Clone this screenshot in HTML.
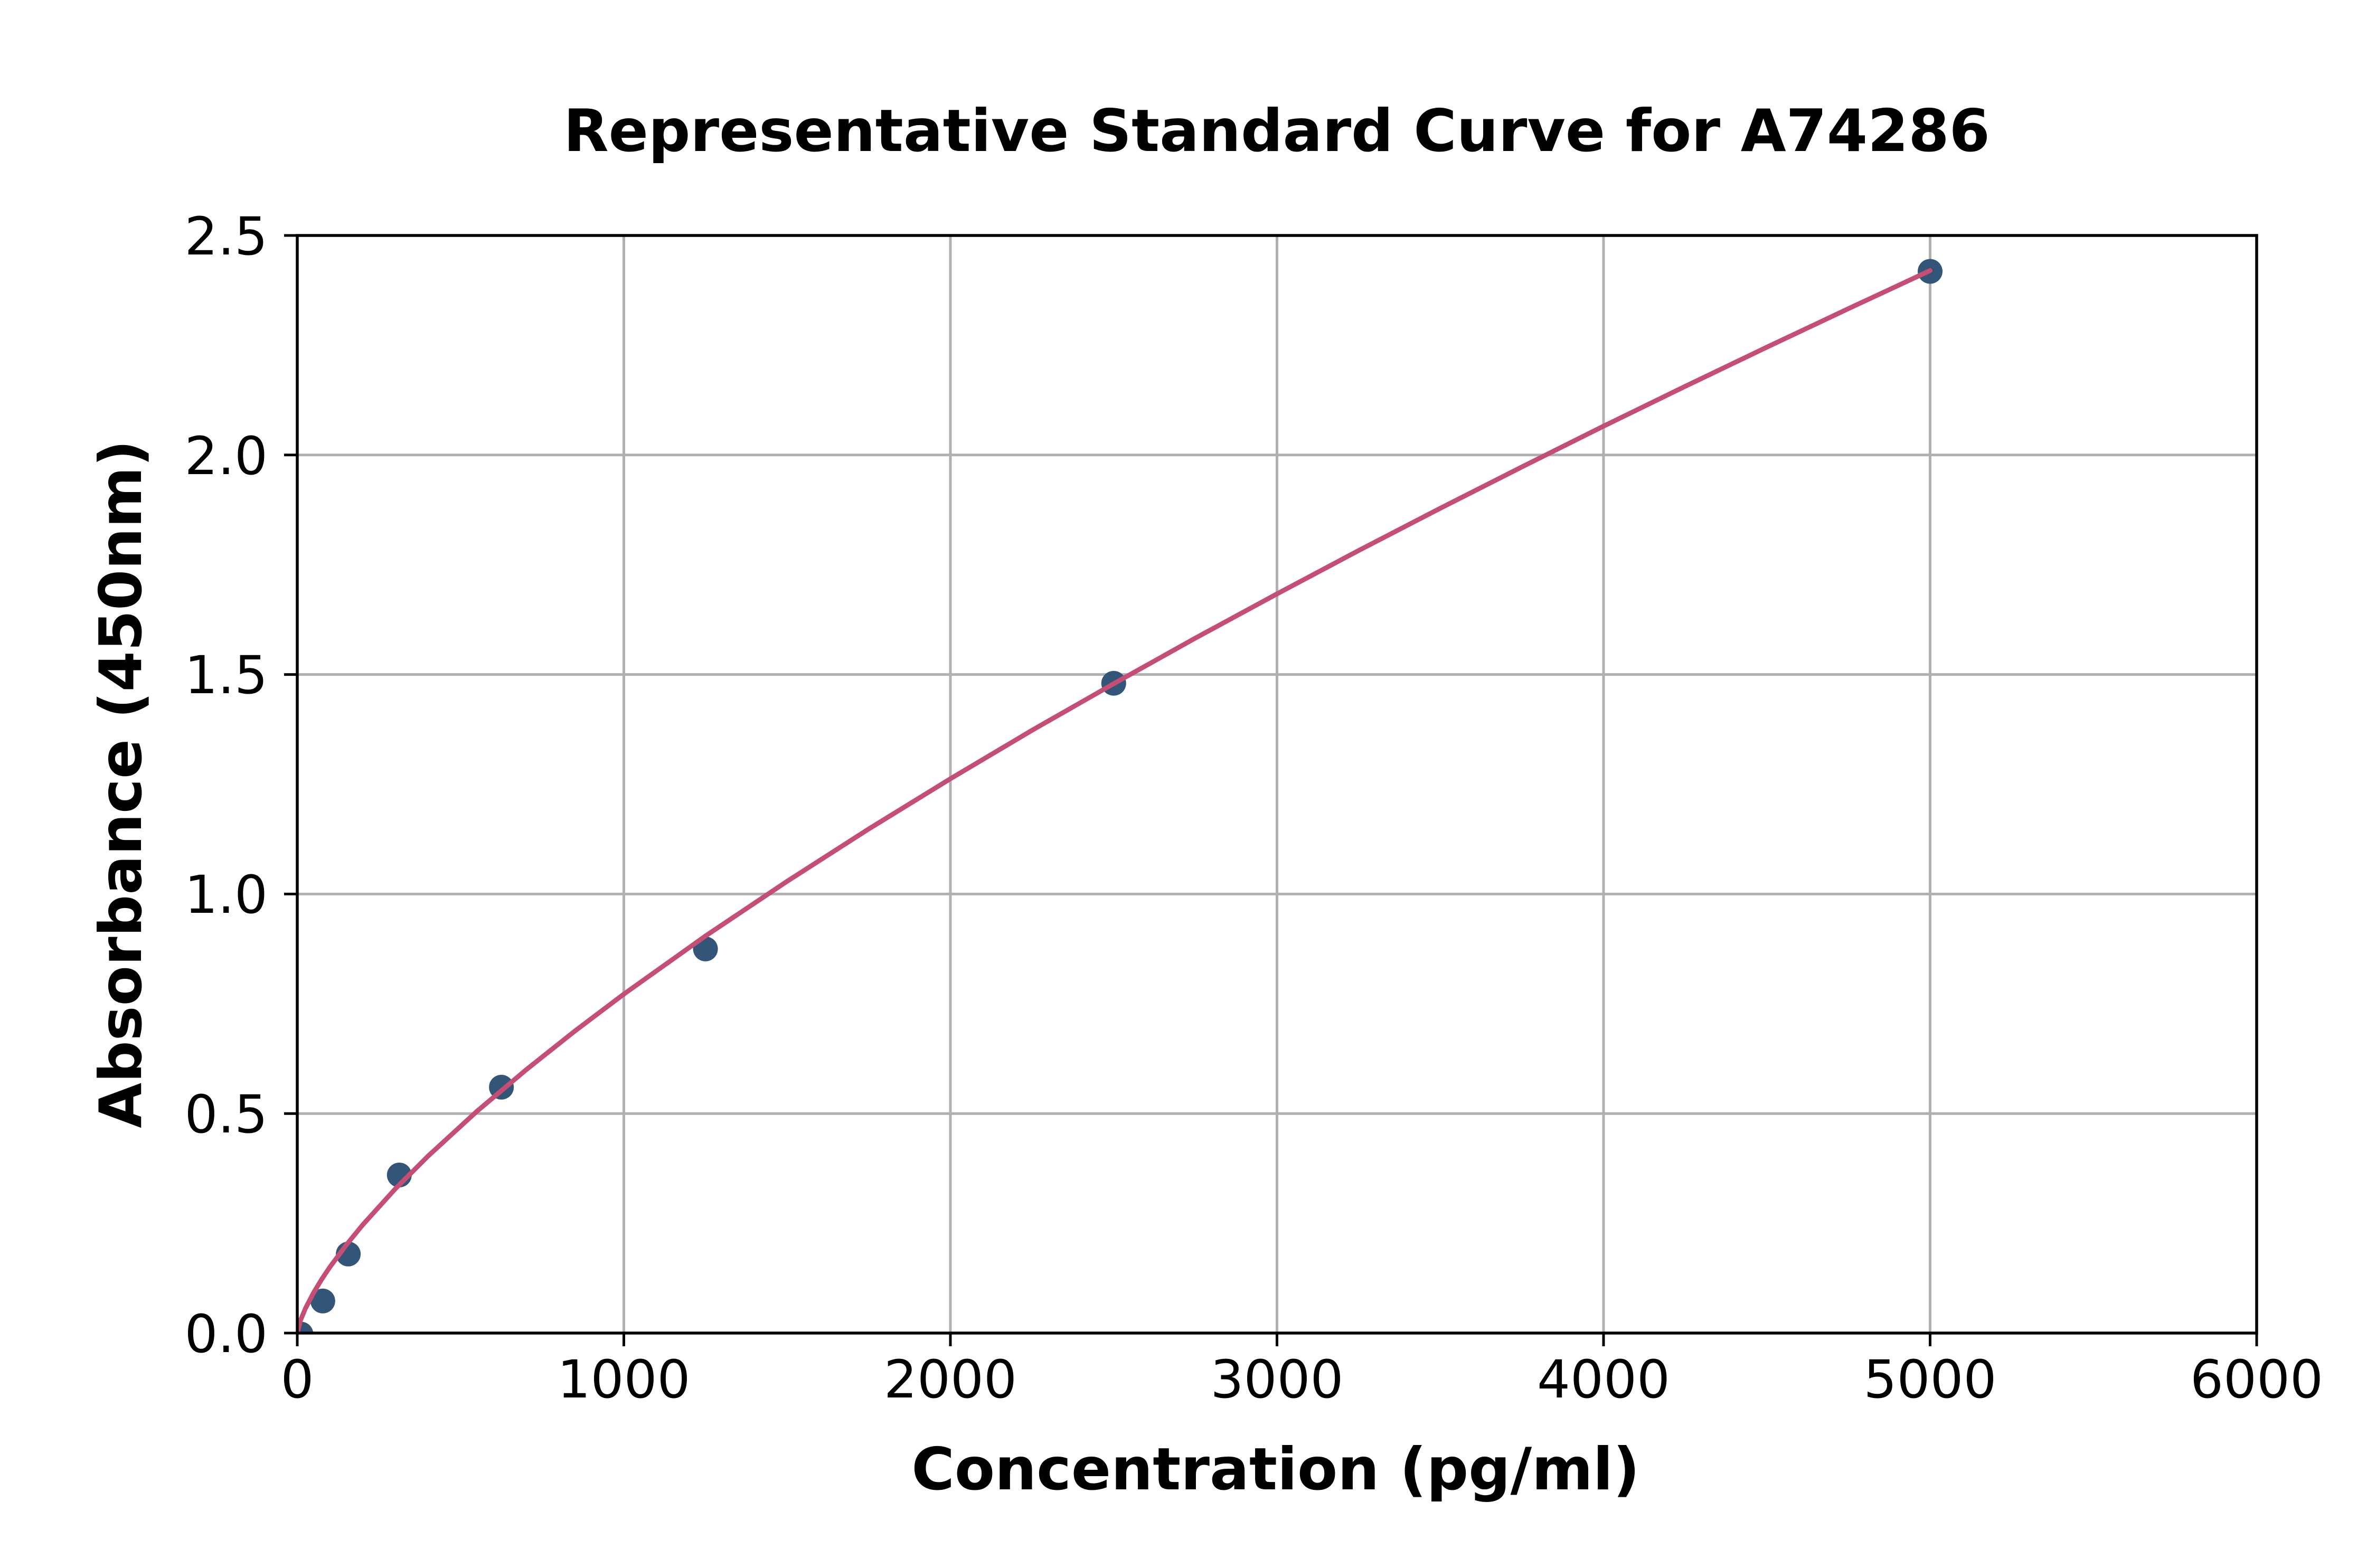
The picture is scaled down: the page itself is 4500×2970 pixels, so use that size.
<!DOCTYPE html>
<html><head><meta charset="utf-8"><style>html,body{margin:0;padding:0;background:#fff}svg{display:block}</style></head>
<body>
<svg width="4500" height="2970" viewBox="0 0 4500 2970" xmlns="http://www.w3.org/2000/svg" font-family="'DejaVu Sans','Liberation Sans',sans-serif">
<defs><clipPath id="ax"><rect x="563" y="446" width="3711" height="2079"/></clipPath></defs>
<rect width="4500" height="2970" fill="#fff"/>
<g stroke="#b0b0b0" stroke-width="5">
<line x1="1181.5" y1="446" x2="1181.5" y2="2525"/>
<line x1="1800" y1="446" x2="1800" y2="2525"/>
<line x1="2418.5" y1="446" x2="2418.5" y2="2525"/>
<line x1="3037" y1="446" x2="3037" y2="2525"/>
<line x1="3655.5" y1="446" x2="3655.5" y2="2525"/>
<line x1="563" y1="2109.2" x2="4274" y2="2109.2"/>
<line x1="563" y1="1693.4" x2="4274" y2="1693.4"/>
<line x1="563" y1="1277.6" x2="4274" y2="1277.6"/>
<line x1="563" y1="861.8" x2="4274" y2="861.8"/>
</g>
<g fill="#335577" clip-path="url(#ax)">
<circle cx="570" cy="2527" r="23.5"/>
<circle cx="611.3" cy="2464.3" r="23.5"/>
<circle cx="659.6" cy="2375.3" r="23.5"/>
<circle cx="756.3" cy="2225.6" r="23.5"/>
<circle cx="949.6" cy="2059.3" r="23.5"/>
<circle cx="1336.1" cy="1797.4" r="23.5"/>
<circle cx="2109.3" cy="1294.2" r="23.5"/>
<circle cx="3655.5" cy="514" r="23.5"/>
</g>
<polyline fill="none" stroke="#c44e74" stroke-width="9" stroke-linejoin="round" stroke-linecap="round" clip-path="url(#ax)" points="563,2525 569.2,2500.6 578.5,2478.3 593.9,2448.5 609.4,2423 624.9,2399.8 655.8,2358.1 686.7,2320.3 748.6,2251.9 810.4,2190.1 903.2,2105 996,2026.7 1088.7,1953 1181.5,1883 1336.1,1772.9 1490.8,1669.3 1645.4,1570.1 1800,1475.1 1954.6,1383.3 2109.3,1295 2263.9,1208.7 2418.5,1124.9 2573.1,1042.8 2727.8,962.8 2882.4,884.4 3037,807.2 3191.6,731.8 3346.3,657.6 3500.9,584.6 3655.5,512.5"/>
<rect x="563" y="446" width="3711" height="2079" fill="none" stroke="#000" stroke-width="5.5"/>
<g stroke="#000" stroke-width="5">
<line x1="563" y1="2525" x2="563" y2="2550"/>
<line x1="1181.5" y1="2525" x2="1181.5" y2="2550"/>
<line x1="1800" y1="2525" x2="1800" y2="2550"/>
<line x1="2418.5" y1="2525" x2="2418.5" y2="2550"/>
<line x1="3037" y1="2525" x2="3037" y2="2550"/>
<line x1="3655.5" y1="2525" x2="3655.5" y2="2550"/>
<line x1="4274" y1="2525" x2="4274" y2="2550"/>
<line x1="538" y1="2525" x2="563" y2="2525"/>
<line x1="538" y1="2109.2" x2="563" y2="2109.2"/>
<line x1="538" y1="1693.4" x2="563" y2="1693.4"/>
<line x1="538" y1="1277.6" x2="563" y2="1277.6"/>
<line x1="538" y1="861.8" x2="563" y2="861.8"/>
<line x1="538" y1="446" x2="563" y2="446"/>
</g>
<g font-size="99" fill="#000" text-anchor="middle">
<text x="563" y="2647">0</text>
<text x="1181.5" y="2647">1000</text>
<text x="1800" y="2647">2000</text>
<text x="2418.5" y="2647">3000</text>
<text x="3037" y="2647">4000</text>
<text x="3655.5" y="2647">5000</text>
<text x="4274" y="2647">6000</text>
</g>
<g font-size="99" fill="#000" text-anchor="end">
<text x="507" y="2561">0.0</text>
<text x="507" y="2145">0.5</text>
<text x="507" y="1729">1.0</text>
<text x="507" y="1313">1.5</text>
<text x="507" y="898">2.0</text>
<text x="507" y="482">2.5</text>
</g>
<text x="2418" y="286" font-size="111" font-weight="bold" text-anchor="middle">Representative Standard Curve for A74286</text>
<text x="2416" y="2821" font-size="111" font-weight="bold" text-anchor="middle">Concentration (pg/ml)</text>
<text transform="translate(267,1485) rotate(-90)" font-size="111" font-weight="bold" text-anchor="middle">Absorbance (450nm)</text>
</svg>
</body></html>
